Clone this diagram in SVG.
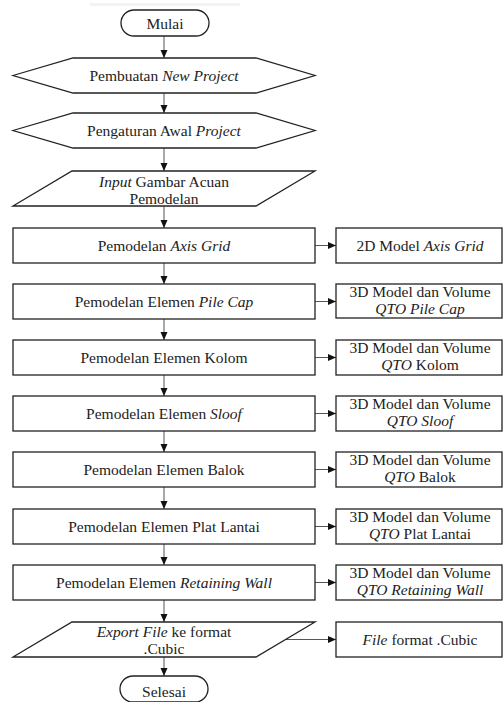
<svg xmlns="http://www.w3.org/2000/svg" width="503" height="702" viewBox="0 0 503 702" font-family="'Liberation Serif', 'Times New Roman', Tinos, 'DejaVu Serif', serif">
<style>
.s{fill:#fff;stroke:#222;stroke-width:1.3}
.t{font-family:'Liberation Serif','Times New Roman',Tinos,'DejaVu Serif',serif;font-size:15.5px;fill:#222;text-anchor:middle}
.i{font-style:italic}
.c{stroke:#555;stroke-width:1;fill:none}
</style>
<defs>
<marker id="ah" viewBox="0 0 8 8" refX="8" refY="4" markerWidth="8" markerHeight="8" markerUnits="userSpaceOnUse" orient="auto">
<path d="M0,0.5 L8,4 L0,7.5 Z" fill="#111"/>
</marker>
</defs>
<rect x="0" y="0" width="503" height="702" fill="#fff"/>
<line x1="90" y1="4.5" x2="240" y2="4.5" stroke="#f3f3f3" stroke-width="3"/>
<g id="connectors">
<line class="c" x1="164" y1="36" x2="164" y2="58" marker-end="url(#ah)"/>
<line class="c" x1="164" y1="93" x2="164" y2="113" marker-end="url(#ah)"/>
<line class="c" x1="164" y1="148" x2="164" y2="171" marker-end="url(#ah)"/>
<line class="c" x1="164" y1="206" x2="164" y2="228" marker-end="url(#ah)"/>
<line class="c" x1="164" y1="263" x2="164" y2="284" marker-end="url(#ah)"/>
<line class="c" x1="164" y1="319" x2="164" y2="340" marker-end="url(#ah)"/>
<line class="c" x1="164" y1="375" x2="164" y2="396" marker-end="url(#ah)"/>
<line class="c" x1="164" y1="431" x2="164" y2="452" marker-end="url(#ah)"/>
<line class="c" x1="164" y1="487" x2="164" y2="509" marker-end="url(#ah)"/>
<line class="c" x1="164" y1="544" x2="164" y2="565" marker-end="url(#ah)"/>
<line class="c" x1="164" y1="600" x2="164" y2="622" marker-end="url(#ah)"/>
<line class="c" x1="164" y1="657" x2="164" y2="676" marker-end="url(#ah)"/>
<line class="c" x1="315" y1="245.5" x2="336" y2="245.5" marker-end="url(#ah)"/>
<line class="c" x1="315" y1="301.5" x2="336" y2="301.5" marker-end="url(#ah)"/>
<line class="c" x1="315" y1="357.5" x2="336" y2="357.5" marker-end="url(#ah)"/>
<line class="c" x1="315" y1="413.5" x2="336" y2="413.5" marker-end="url(#ah)"/>
<line class="c" x1="315" y1="469.5" x2="336" y2="469.5" marker-end="url(#ah)"/>
<line class="c" x1="315" y1="526.5" x2="336" y2="526.5" marker-end="url(#ah)"/>
<line class="c" x1="315" y1="582.5" x2="336" y2="582.5" marker-end="url(#ah)"/>
<line class="c" x1="286" y1="639.5" x2="336" y2="639.5" marker-end="url(#ah)"/>
</g>
<g id="mulai">
<rect class="s" x="121" y="10" width="88" height="26" rx="13"/>
<text class="t" x="165" y="29">Mulai</text>
</g>
<g id="new-project">
<polygon class="s" points="13,75.5 73,58 256,58 315,75.5 256,93 73,93"/>
<text class="t" x="164" y="81">Pembuatan <tspan class="i">New Project</tspan></text>
</g>
<g id="pengaturan">
<polygon class="s" points="13,130.5 73,113 256,113 315,130.5 256,148 73,148"/>
<text class="t" x="164" y="136">Pengaturan Awal <tspan class="i">Project</tspan></text>
</g>
<g id="input">
<polygon class="s" points="72,171 315,171 256,206 13,206"/>
<text class="t" x="164" y="187"><tspan class="i">Input</tspan> Gambar Acuan</text>
<text class="t" x="164" y="204">Pemodelan</text>
</g>
<g id="axis-grid">
<rect class="s" x="13" y="228" width="302" height="35"/>
<text class="t" x="164" y="251">Pemodelan <tspan class="i">Axis Grid</tspan></text>
</g>
<g id="out-axis-grid">
<rect class="s" x="336" y="228" width="166" height="35"/>
<text class="t" x="420" y="251">2D Model <tspan class="i">Axis Grid</tspan></text>
</g>
<g id="pile-cap">
<rect class="s" x="13" y="284" width="302" height="35"/>
<text class="t" x="164" y="307">Pemodelan Elemen <tspan class="i">Pile Cap</tspan></text>
</g>
<g id="out-pile-cap">
<rect class="s" x="336" y="284" width="166" height="34"/>
<text class="t" x="420" y="297">3D Model dan Volume</text>
<text class="t" x="420" y="314"><tspan class="i">QTO Pile Cap</tspan></text>
</g>
<g id="kolom">
<rect class="s" x="13" y="340" width="302" height="35"/>
<text class="t" x="164" y="363">Pemodelan Elemen Kolom</text>
</g>
<g id="out-kolom">
<rect class="s" x="336" y="340" width="166" height="35"/>
<text class="t" x="420" y="353">3D Model dan Volume</text>
<text class="t" x="420" y="370"><tspan class="i">QTO</tspan> Kolom</text>
</g>
<g id="sloof">
<rect class="s" x="13" y="396" width="302" height="35"/>
<text class="t" x="164" y="419">Pemodelan Elemen <tspan class="i">Sloof</tspan></text>
</g>
<g id="out-sloof">
<rect class="s" x="336" y="396" width="166" height="35"/>
<text class="t" x="420" y="409">3D Model dan Volume</text>
<text class="t" x="420" y="426"><tspan class="i">QTO Sloof</tspan></text>
</g>
<g id="balok">
<rect class="s" x="13" y="452" width="302" height="35"/>
<text class="t" x="164" y="475">Pemodelan Elemen Balok</text>
</g>
<g id="out-balok">
<rect class="s" x="336" y="452" width="166" height="35"/>
<text class="t" x="420" y="465">3D Model dan Volume</text>
<text class="t" x="420" y="482"><tspan class="i">QTO</tspan> Balok</text>
</g>
<g id="plat-lantai">
<rect class="s" x="13" y="509" width="302" height="35"/>
<text class="t" x="164" y="532">Pemodelan Elemen Plat Lantai</text>
</g>
<g id="out-plat-lantai">
<rect class="s" x="336" y="509" width="166" height="35"/>
<text class="t" x="420" y="522">3D Model dan Volume</text>
<text class="t" x="420" y="539"><tspan class="i">QTO</tspan> Plat Lantai</text>
</g>
<g id="retaining-wall">
<rect class="s" x="13" y="565" width="302" height="35"/>
<text class="t" x="164" y="588">Pemodelan Elemen <tspan class="i">Retaining Wall</tspan></text>
</g>
<g id="out-retaining-wall">
<rect class="s" x="336" y="565" width="166" height="35"/>
<text class="t" x="420" y="578">3D Model dan Volume</text>
<text class="t" x="420" y="595"><tspan class="i">QTO Retaining Wall</tspan></text>
</g>
<g id="export">
<polygon class="s" points="72,622 315,622 256,657 13,657"/>
<text class="t" x="164" y="637"><tspan class="i">Export File</tspan> ke format</text>
<text class="t" x="164" y="654">.Cubic</text>
</g>
<g id="out-export">
<rect class="s" x="336" y="622" width="166" height="35"/>
<text class="t" x="420" y="645"><tspan class="i">File</tspan> format .Cubic</text>
</g>
<g id="selesai">
<rect class="s" x="120" y="676" width="88" height="26" rx="13"/>
<text class="t" x="164" y="697">Selesai</text>
</g>
</svg>
